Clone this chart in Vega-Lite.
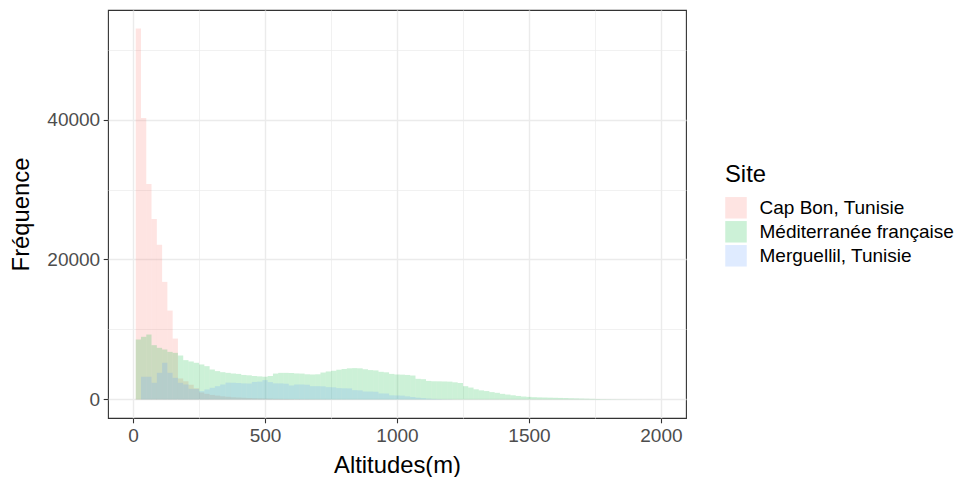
{
  "$schema": "https://vega.github.io/schema/vega-lite/v6.json",
  "autosize": {"type": "none"},
  "padding": {"left": 108, "top": 10, "right": 276, "bottom": 59},
  "width": 578,
  "height": 408,
  "config": {
    "font": "Liberation Sans",
    "view": {"stroke": "#333333", "strokeWidth": 1.1},
    "axis": {
      "domain": false,
      "gridColor": "#EBEBEB",
      "labelFontSize": 19,
      "labelColor": "#4D4D4D",
      "labelFont": "Liberation Sans",
      "tickColor": "#333333",
      "tickWidth": 1.1,
      "tickSize": 4.8,
      "labelPadding": 3.5,
      "titleFontSize": 23.8,
      "titleFontWeight": "normal",
      "titleColor": "#000000",
      "titleFont": "Liberation Sans",
      "labelFlush": false,
      "labelOverlap": false
    },
    "legend": {
      "titleFontSize": 23.8,
      "titleFontWeight": "normal",
      "titleColor": "#000000",
      "labelFontSize": 19,
      "labelColor": "#000000",
      "titleFont": "Liberation Sans",
      "labelFont": "Liberation Sans",
      "labelLimit": 0
    }
  },
  "data": {"values": [
    {"site":"Cap Bon, Tunisie","lo":10,"hi":30,"n":53000},
    {"site":"Cap Bon, Tunisie","lo":30,"hi":50,"n":40200},
    {"site":"Cap Bon, Tunisie","lo":50,"hi":70,"n":30800},
    {"site":"Cap Bon, Tunisie","lo":70,"hi":90,"n":25800},
    {"site":"Cap Bon, Tunisie","lo":90,"hi":110,"n":22100},
    {"site":"Cap Bon, Tunisie","lo":110,"hi":130,"n":16800},
    {"site":"Cap Bon, Tunisie","lo":130,"hi":150,"n":12700},
    {"site":"Cap Bon, Tunisie","lo":150,"hi":170,"n":8700},
    {"site":"Cap Bon, Tunisie","lo":170,"hi":190,"n":3000},
    {"site":"Cap Bon, Tunisie","lo":190,"hi":210,"n":2600},
    {"site":"Cap Bon, Tunisie","lo":210,"hi":230,"n":2100},
    {"site":"Cap Bon, Tunisie","lo":230,"hi":250,"n":1600},
    {"site":"Cap Bon, Tunisie","lo":250,"hi":270,"n":1000},
    {"site":"Cap Bon, Tunisie","lo":270,"hi":290,"n":800},
    {"site":"Cap Bon, Tunisie","lo":290,"hi":310,"n":650},
    {"site":"Cap Bon, Tunisie","lo":310,"hi":330,"n":550},
    {"site":"Cap Bon, Tunisie","lo":330,"hi":350,"n":450},
    {"site":"Cap Bon, Tunisie","lo":350,"hi":370,"n":380},
    {"site":"Cap Bon, Tunisie","lo":370,"hi":390,"n":320},
    {"site":"Cap Bon, Tunisie","lo":390,"hi":410,"n":280},
    {"site":"Cap Bon, Tunisie","lo":410,"hi":430,"n":240},
    {"site":"Cap Bon, Tunisie","lo":430,"hi":450,"n":200},
    {"site":"Cap Bon, Tunisie","lo":450,"hi":470,"n":170},
    {"site":"Cap Bon, Tunisie","lo":470,"hi":490,"n":150},
    {"site":"Cap Bon, Tunisie","lo":490,"hi":510,"n":130},
    {"site":"Cap Bon, Tunisie","lo":510,"hi":530,"n":110},
    {"site":"Cap Bon, Tunisie","lo":530,"hi":550,"n":90},
    {"site":"Cap Bon, Tunisie","lo":550,"hi":570,"n":80},
    {"site":"Cap Bon, Tunisie","lo":570,"hi":590,"n":70},
    {"site":"Cap Bon, Tunisie","lo":590,"hi":610,"n":60},
    {"site":"Cap Bon, Tunisie","lo":610,"hi":630,"n":50},
    {"site":"Cap Bon, Tunisie","lo":630,"hi":650,"n":40},
    {"site":"Cap Bon, Tunisie","lo":650,"hi":670,"n":35},
    {"site":"Cap Bon, Tunisie","lo":670,"hi":690,"n":30},
    {"site":"Cap Bon, Tunisie","lo":690,"hi":710,"n":25},
    {"site":"Cap Bon, Tunisie","lo":710,"hi":730,"n":20},
    {"site":"Cap Bon, Tunisie","lo":730,"hi":750,"n":15},
    {"site":"Cap Bon, Tunisie","lo":750,"hi":770,"n":12},
    {"site":"Cap Bon, Tunisie","lo":770,"hi":790,"n":10},
    {"site":"Cap Bon, Tunisie","lo":790,"hi":810,"n":8},
    {"site":"Méditerranée française","lo":10,"hi":30,"n":8570},
    {"site":"Méditerranée française","lo":30,"hi":50,"n":8950},
    {"site":"Méditerranée française","lo":50,"hi":70,"n":9280},
    {"site":"Méditerranée française","lo":70,"hi":90,"n":7760},
    {"site":"Méditerranée française","lo":90,"hi":110,"n":7380},
    {"site":"Méditerranée française","lo":110,"hi":130,"n":7140},
    {"site":"Méditerranée française","lo":130,"hi":150,"n":6800},
    {"site":"Méditerranée française","lo":150,"hi":170,"n":6660},
    {"site":"Méditerranée française","lo":170,"hi":190,"n":6280},
    {"site":"Méditerranée française","lo":190,"hi":210,"n":5620},
    {"site":"Méditerranée française","lo":210,"hi":230,"n":5430},
    {"site":"Méditerranée française","lo":230,"hi":250,"n":5240},
    {"site":"Méditerranée française","lo":250,"hi":270,"n":5000},
    {"site":"Méditerranée française","lo":270,"hi":290,"n":4760},
    {"site":"Méditerranée française","lo":290,"hi":310,"n":4280},
    {"site":"Méditerranée française","lo":310,"hi":330,"n":4050},
    {"site":"Méditerranée française","lo":330,"hi":350,"n":3900},
    {"site":"Méditerranée française","lo":350,"hi":370,"n":3800},
    {"site":"Méditerranée française","lo":370,"hi":390,"n":3710},
    {"site":"Méditerranée française","lo":390,"hi":410,"n":3650},
    {"site":"Méditerranée française","lo":410,"hi":430,"n":3500},
    {"site":"Méditerranée française","lo":430,"hi":450,"n":3450},
    {"site":"Méditerranée française","lo":450,"hi":470,"n":3350},
    {"site":"Méditerranée française","lo":470,"hi":490,"n":3300},
    {"site":"Méditerranée française","lo":490,"hi":510,"n":3250},
    {"site":"Méditerranée française","lo":510,"hi":530,"n":3350},
    {"site":"Méditerranée française","lo":530,"hi":550,"n":3700},
    {"site":"Méditerranée française","lo":550,"hi":570,"n":3800},
    {"site":"Méditerranée française","lo":570,"hi":590,"n":3800},
    {"site":"Méditerranée française","lo":590,"hi":610,"n":3780},
    {"site":"Méditerranée française","lo":610,"hi":630,"n":3720},
    {"site":"Méditerranée française","lo":630,"hi":650,"n":3700},
    {"site":"Méditerranée française","lo":650,"hi":670,"n":3600},
    {"site":"Méditerranée française","lo":670,"hi":690,"n":3570},
    {"site":"Méditerranée française","lo":690,"hi":710,"n":3600},
    {"site":"Méditerranée française","lo":710,"hi":730,"n":3850},
    {"site":"Méditerranée française","lo":730,"hi":750,"n":4000},
    {"site":"Méditerranée française","lo":750,"hi":770,"n":4100},
    {"site":"Méditerranée française","lo":770,"hi":790,"n":4250},
    {"site":"Méditerranée française","lo":790,"hi":810,"n":4350},
    {"site":"Méditerranée française","lo":810,"hi":830,"n":4450},
    {"site":"Méditerranée française","lo":830,"hi":850,"n":4480},
    {"site":"Méditerranée française","lo":850,"hi":870,"n":4450},
    {"site":"Méditerranée française","lo":870,"hi":890,"n":4300},
    {"site":"Méditerranée française","lo":890,"hi":910,"n":4200},
    {"site":"Méditerranée française","lo":910,"hi":930,"n":4150},
    {"site":"Méditerranée française","lo":930,"hi":950,"n":3950},
    {"site":"Méditerranée française","lo":950,"hi":970,"n":3880},
    {"site":"Méditerranée française","lo":970,"hi":990,"n":3650},
    {"site":"Méditerranée française","lo":990,"hi":1010,"n":3570},
    {"site":"Méditerranée française","lo":1010,"hi":1030,"n":3550},
    {"site":"Méditerranée française","lo":1030,"hi":1050,"n":3500},
    {"site":"Méditerranée française","lo":1050,"hi":1070,"n":3420},
    {"site":"Méditerranée française","lo":1070,"hi":1090,"n":2950},
    {"site":"Méditerranée française","lo":1090,"hi":1110,"n":2900},
    {"site":"Méditerranée française","lo":1110,"hi":1130,"n":2650},
    {"site":"Méditerranée française","lo":1130,"hi":1150,"n":2600},
    {"site":"Méditerranée française","lo":1150,"hi":1170,"n":2590},
    {"site":"Méditerranée française","lo":1170,"hi":1190,"n":2570},
    {"site":"Méditerranée française","lo":1190,"hi":1210,"n":2550},
    {"site":"Méditerranée française","lo":1210,"hi":1230,"n":2450},
    {"site":"Méditerranée française","lo":1230,"hi":1250,"n":2350},
    {"site":"Méditerranée française","lo":1250,"hi":1270,"n":1900},
    {"site":"Méditerranée française","lo":1270,"hi":1290,"n":1700},
    {"site":"Méditerranée française","lo":1290,"hi":1310,"n":1450},
    {"site":"Méditerranée française","lo":1310,"hi":1330,"n":1300},
    {"site":"Méditerranée française","lo":1330,"hi":1350,"n":1200},
    {"site":"Méditerranée française","lo":1350,"hi":1370,"n":1050},
    {"site":"Méditerranée française","lo":1370,"hi":1390,"n":950},
    {"site":"Méditerranée française","lo":1390,"hi":1410,"n":800},
    {"site":"Méditerranée française","lo":1410,"hi":1430,"n":700},
    {"site":"Méditerranée française","lo":1430,"hi":1450,"n":600},
    {"site":"Méditerranée française","lo":1450,"hi":1470,"n":500},
    {"site":"Méditerranée française","lo":1470,"hi":1490,"n":420},
    {"site":"Méditerranée française","lo":1490,"hi":1510,"n":370},
    {"site":"Méditerranée française","lo":1510,"hi":1530,"n":330},
    {"site":"Méditerranée française","lo":1530,"hi":1550,"n":300},
    {"site":"Méditerranée française","lo":1550,"hi":1570,"n":280},
    {"site":"Méditerranée française","lo":1570,"hi":1590,"n":260},
    {"site":"Méditerranée française","lo":1590,"hi":1610,"n":240},
    {"site":"Méditerranée française","lo":1610,"hi":1630,"n":220},
    {"site":"Méditerranée française","lo":1630,"hi":1650,"n":200},
    {"site":"Méditerranée française","lo":1650,"hi":1670,"n":170},
    {"site":"Méditerranée française","lo":1670,"hi":1690,"n":150},
    {"site":"Méditerranée française","lo":1690,"hi":1710,"n":130},
    {"site":"Méditerranée française","lo":1710,"hi":1730,"n":110},
    {"site":"Méditerranée française","lo":1730,"hi":1750,"n":90},
    {"site":"Méditerranée française","lo":1750,"hi":1770,"n":70},
    {"site":"Méditerranée française","lo":1770,"hi":1790,"n":50},
    {"site":"Méditerranée française","lo":1790,"hi":1810,"n":40},
    {"site":"Méditerranée française","lo":1810,"hi":1830,"n":30},
    {"site":"Méditerranée française","lo":1830,"hi":1850,"n":25},
    {"site":"Méditerranée française","lo":1850,"hi":1870,"n":20},
    {"site":"Méditerranée française","lo":1870,"hi":1890,"n":15},
    {"site":"Méditerranée française","lo":1890,"hi":1910,"n":12},
    {"site":"Méditerranée française","lo":1910,"hi":1930,"n":10},
    {"site":"Méditerranée française","lo":1930,"hi":1950,"n":8},
    {"site":"Méditerranée française","lo":1950,"hi":1970,"n":6},
    {"site":"Méditerranée française","lo":1970,"hi":1990,"n":4},
    {"site":"Méditerranée française","lo":1990,"hi":2010,"n":3},
    {"site":"Merguellil, Tunisie","lo":30,"hi":50,"n":3240},
    {"site":"Merguellil, Tunisie","lo":50,"hi":70,"n":3240},
    {"site":"Merguellil, Tunisie","lo":70,"hi":90,"n":2380},
    {"site":"Merguellil, Tunisie","lo":90,"hi":110,"n":3810},
    {"site":"Merguellil, Tunisie","lo":110,"hi":130,"n":5240},
    {"site":"Merguellil, Tunisie","lo":130,"hi":150,"n":3810},
    {"site":"Merguellil, Tunisie","lo":150,"hi":170,"n":3090},
    {"site":"Merguellil, Tunisie","lo":170,"hi":190,"n":2380},
    {"site":"Merguellil, Tunisie","lo":190,"hi":210,"n":2140},
    {"site":"Merguellil, Tunisie","lo":210,"hi":230,"n":1520},
    {"site":"Merguellil, Tunisie","lo":230,"hi":250,"n":1500},
    {"site":"Merguellil, Tunisie","lo":250,"hi":270,"n":1190},
    {"site":"Merguellil, Tunisie","lo":270,"hi":290,"n":1430},
    {"site":"Merguellil, Tunisie","lo":290,"hi":310,"n":1670},
    {"site":"Merguellil, Tunisie","lo":310,"hi":330,"n":1900},
    {"site":"Merguellil, Tunisie","lo":330,"hi":350,"n":2140},
    {"site":"Merguellil, Tunisie","lo":350,"hi":370,"n":2400},
    {"site":"Merguellil, Tunisie","lo":370,"hi":390,"n":2380},
    {"site":"Merguellil, Tunisie","lo":390,"hi":410,"n":2350},
    {"site":"Merguellil, Tunisie","lo":410,"hi":430,"n":2290},
    {"site":"Merguellil, Tunisie","lo":430,"hi":450,"n":2280},
    {"site":"Merguellil, Tunisie","lo":450,"hi":470,"n":2500},
    {"site":"Merguellil, Tunisie","lo":470,"hi":490,"n":2550},
    {"site":"Merguellil, Tunisie","lo":490,"hi":510,"n":2760},
    {"site":"Merguellil, Tunisie","lo":510,"hi":530,"n":2480},
    {"site":"Merguellil, Tunisie","lo":530,"hi":550,"n":2300},
    {"site":"Merguellil, Tunisie","lo":550,"hi":570,"n":2290},
    {"site":"Merguellil, Tunisie","lo":570,"hi":590,"n":2250},
    {"site":"Merguellil, Tunisie","lo":590,"hi":610,"n":2000},
    {"site":"Merguellil, Tunisie","lo":610,"hi":630,"n":2140},
    {"site":"Merguellil, Tunisie","lo":630,"hi":650,"n":2140},
    {"site":"Merguellil, Tunisie","lo":650,"hi":670,"n":2100},
    {"site":"Merguellil, Tunisie","lo":670,"hi":690,"n":1900},
    {"site":"Merguellil, Tunisie","lo":690,"hi":710,"n":1900},
    {"site":"Merguellil, Tunisie","lo":710,"hi":730,"n":1880},
    {"site":"Merguellil, Tunisie","lo":730,"hi":750,"n":1760},
    {"site":"Merguellil, Tunisie","lo":750,"hi":770,"n":1740},
    {"site":"Merguellil, Tunisie","lo":770,"hi":790,"n":1620},
    {"site":"Merguellil, Tunisie","lo":790,"hi":810,"n":1600},
    {"site":"Merguellil, Tunisie","lo":810,"hi":830,"n":1580},
    {"site":"Merguellil, Tunisie","lo":830,"hi":850,"n":1330},
    {"site":"Merguellil, Tunisie","lo":850,"hi":870,"n":1300},
    {"site":"Merguellil, Tunisie","lo":870,"hi":890,"n":1140},
    {"site":"Merguellil, Tunisie","lo":890,"hi":910,"n":1130},
    {"site":"Merguellil, Tunisie","lo":910,"hi":930,"n":1100},
    {"site":"Merguellil, Tunisie","lo":930,"hi":950,"n":860},
    {"site":"Merguellil, Tunisie","lo":950,"hi":970,"n":850},
    {"site":"Merguellil, Tunisie","lo":970,"hi":990,"n":600},
    {"site":"Merguellil, Tunisie","lo":990,"hi":1010,"n":570},
    {"site":"Merguellil, Tunisie","lo":1010,"hi":1030,"n":550},
    {"site":"Merguellil, Tunisie","lo":1030,"hi":1050,"n":450},
    {"site":"Merguellil, Tunisie","lo":1050,"hi":1070,"n":350},
    {"site":"Merguellil, Tunisie","lo":1070,"hi":1090,"n":250},
    {"site":"Merguellil, Tunisie","lo":1090,"hi":1110,"n":180},
    {"site":"Merguellil, Tunisie","lo":1110,"hi":1130,"n":120},
    {"site":"Merguellil, Tunisie","lo":1130,"hi":1150,"n":80},
    {"site":"Merguellil, Tunisie","lo":1150,"hi":1170,"n":50},
    {"site":"Merguellil, Tunisie","lo":1170,"hi":1190,"n":30},
    {"site":"Merguellil, Tunisie","lo":1190,"hi":1210,"n":20}
  ]},
  "layer": [
    {
      "mark": {"type": "point", "opacity": 0},
      "encoding": {
        "x": {"field": "lo", "type": "quantitative",
              "scale": {"domain": [-95, 2095], "nice": false, "zero": false},
              "axis": {"orient": "top", "values": [250, 750, 1250, 1750], "grid": true, "gridWidth": 0.7, "labels": false, "ticks": false, "domain": false, "title": null}},
        "y": {"field": "n", "type": "quantitative",
              "scale": {"domain": [-2650, 55650], "nice": false, "zero": false},
              "axis": {"orient": "right", "values": [10000, 30000, 50000], "grid": true, "gridWidth": 0.7, "labels": false, "ticks": false, "domain": false, "title": null}}
      }
    },
    {
      "mark": {"type": "bar", "opacity": 0.2},
      "encoding": {
        "x": {"field": "lo", "type": "quantitative",
              "scale": {"domain": [-95, 2095], "nice": false, "zero": false},
              "axis": {"values": [0, 500, 1000, 1500, 2000], "format": "d", "grid": true, "gridWidth": 1.4, "title": "Altitudes(m)", "titleY": 54, "titleBaseline": "alphabetic"}},
        "x2": {"field": "hi"},
        "y": {"field": "n", "type": "quantitative",
              "scale": {"domain": [-2650, 55650], "nice": false, "zero": false},
              "axis": {"values": [0, 20000, 40000], "grid": true, "gridWidth": 1.4, "title": "Fréquence", "titleX": -80, "titleBaseline": "alphabetic", "format": "d"}},
        "y2": {"datum": 0},
        "color": {"field": "site", "type": "nominal", "title": "Site",
                  "scale": {"domain": ["Cap Bon, Tunisie", "Méditerranée française", "Merguellil, Tunisie"], "range": ["#F8766D", "#00BA38", "#619CFF"]},
                  "legend": {"orient": "none", "legendX": 617, "legendY": 153, "symbolType": "square", "symbolSize": 462, "symbolOpacity": 0.2, "symbolStrokeWidth": 0, "labelOffset": 12.5, "rowPadding": 2, "titlePadding": 10, "labelLimit": 0}}
      }
    }
  ],
  "resolve": {"axis": {"x": "independent", "y": "independent"}}
}
